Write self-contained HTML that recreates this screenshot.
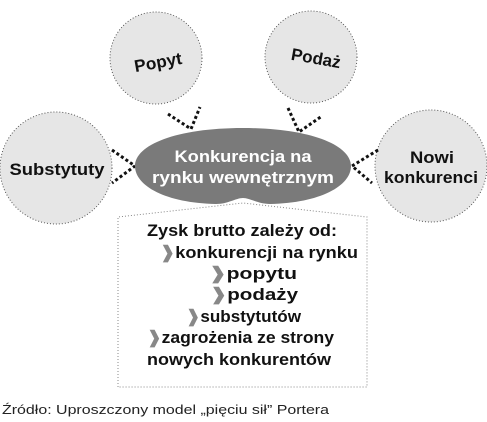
<!DOCTYPE html>
<html><head><meta charset="utf-8"><style>
body{margin:0;background:#fff;width:487px;height:422px;overflow:hidden;font-family:"Liberation Sans",sans-serif}
</style></head><body>
<svg width="487" height="422" viewBox="0 0 487 422" xmlns="http://www.w3.org/2000/svg" style="position:absolute;left:0;top:0">
<g fill="#e6e6e6" stroke="#555" stroke-width="1" stroke-dasharray="1,2">
<circle cx="156" cy="58" r="46"/>
<circle cx="311" cy="57" r="46"/>
<circle cx="56" cy="168" r="56"/>
<circle cx="431" cy="166" r="56"/>
</g>
<path d="M118,387 L118,217 L243,203 L367,217 L367,387 Z" fill="#fff" stroke="#888" stroke-width="1" stroke-dasharray="1,2"/>
<g fill="none" stroke="#111" stroke-width="3" stroke-dasharray="3,2.5">
<path d="M168,114 L191,129 L200,107"/>
<path d="M288,108 L299,132 L322,116"/>
<path d="M112,150 L135,166 L112,183"/>
<path d="M378,150 L352,166 L372,183"/>
</g>
<path d="M243,128 C310,128 351,145 351,166 C351,186 320,203 270,204 C258,204 250,198 243,198 C236,198 228,204 216,204 C166,203 135,186 135,166 C135,145 176,128 243,128 Z" fill="#7a7a7a"/>
<g font-weight="bold" text-anchor="middle" font-size="17" fill="#111">
<text x="158" y="68" transform="rotate(-10 158 62)" textLength="48" lengthAdjust="spacingAndGlyphs">Popyt</text>
<text x="316" y="64" transform="rotate(10 316 58)" textLength="50" lengthAdjust="spacingAndGlyphs">Podaż</text>
<text x="57" y="175" textLength="95" lengthAdjust="spacingAndGlyphs">Substytuty</text>
<text x="432" y="163" textLength="44" lengthAdjust="spacingAndGlyphs">Nowi</text>
<text x="431" y="183" textLength="94" lengthAdjust="spacingAndGlyphs">konkurenci</text>
<text x="243" y="162" fill="#fff" textLength="137" lengthAdjust="spacingAndGlyphs">Konkurencja na</text>
<text x="243" y="183" fill="#fff" textLength="182" lengthAdjust="spacingAndGlyphs">rynku wewnętrznym</text>
</g>
<g font-weight="bold" font-size="17" fill="#111">
<text x="147" y="236" textLength="190" lengthAdjust="spacingAndGlyphs">Zysk brutto zależy od:</text>
<text x="160" y="258" textLength="198" lengthAdjust="spacingAndGlyphs"><tspan fill="#888">❱</tspan>konkurencji na rynku</text>
<text x="209" y="279" textLength="88" lengthAdjust="spacingAndGlyphs"><tspan fill="#888">❱</tspan>popytu</text>
<text x="210" y="300" textLength="88" lengthAdjust="spacingAndGlyphs"><tspan fill="#888">❱</tspan>podaży</text>
<text x="186" y="322" textLength="115" lengthAdjust="spacingAndGlyphs"><tspan fill="#888">❱</tspan>substytutów</text>
<text x="147" y="343" textLength="187" lengthAdjust="spacingAndGlyphs"><tspan fill="#888">❱</tspan>zagrożenia ze strony</text>
<text x="147" y="365" textLength="184" lengthAdjust="spacingAndGlyphs">nowych konkurentów</text>
</g>
<text x="2" y="414" font-size="13" fill="#222" textLength="327" lengthAdjust="spacingAndGlyphs">Źródło: Uproszczony model „pięciu sił” Portera</text>
</svg>
</body></html>
